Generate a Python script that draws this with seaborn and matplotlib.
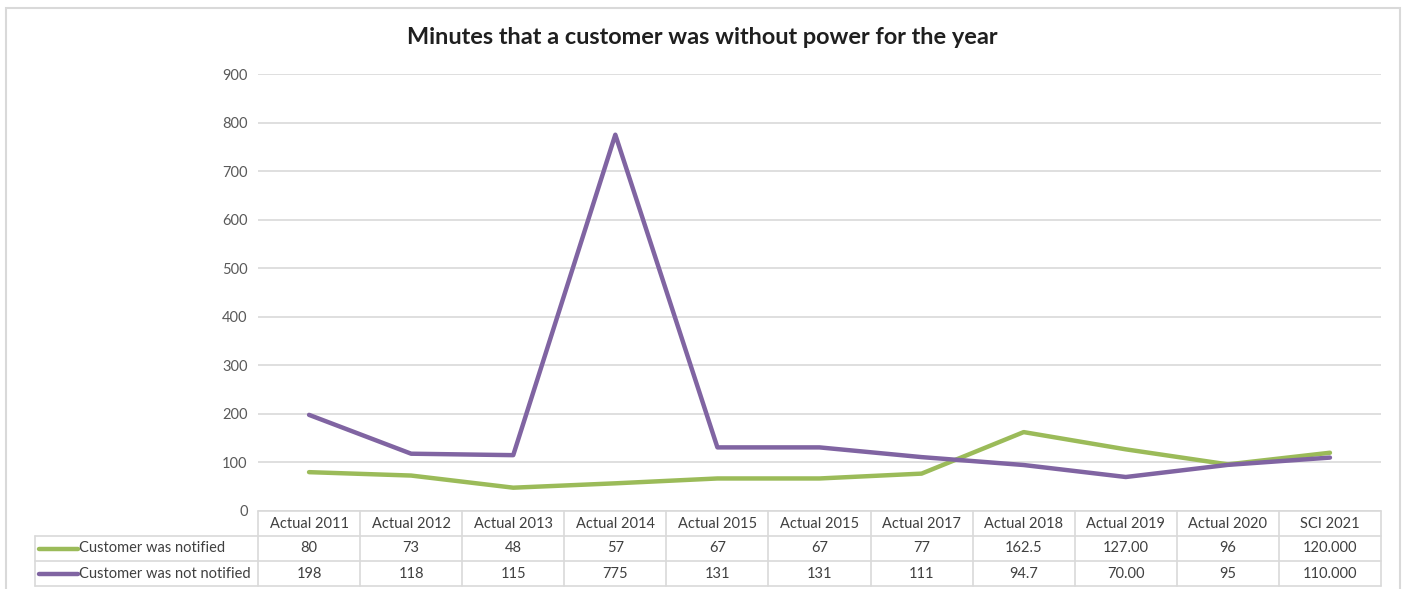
import matplotlib
matplotlib.use("Agg")
import matplotlib.pyplot as plt
import seaborn as sns
import pandas as pd
from matplotlib.lines import Line2D
from matplotlib.patches import Rectangle
import matplotlib.transforms as mtransforms

categories = ["Actual 2011", "Actual 2012", "Actual 2013", "Actual 2014", "Actual 2015",
              "Actual 2015", "Actual 2017", "Actual 2018", "Actual 2019", "Actual 2020", "SCI 2021"]
notified = [80, 73, 48, 57, 67, 67, 77, 162.5, 127.00, 96, 120.000]
not_notified = [198, 118, 115, 775, 131, 131, 111, 94.7, 70.00, 95, 110.000]
notified_labels = ["80", "73", "48", "57", "67", "67", "77", "162.5", "127.00", "96", "120.000"]
not_notified_labels = ["198", "118", "115", "775", "131", "131", "111", "94.7", "70.00", "95", "110.000"]
series_names = ["Customer was notified", "Customer was not notified"]
yticks = [0, 100, 200, 300, 400, 500, 600, 700, 800, 900]
title = "Minutes that a customer was without power for the year"

sns.set_theme(style="white")
plt.rcParams["font.family"] = ["Lato", "DejaVu Sans"]

W, H = 1405, 589
fig = plt.figure(figsize=(W / 100, H / 100), dpi=100)
fig.patch.set_facecolor("white")

# chart border
fig.add_artist(Rectangle((6 / W, -0.05), (1400 - 6) / W, 1.05 - 8 / H,
                         transform=fig.transFigure, fill=False,
                         edgecolor="#D9D9D9", linewidth=1.5))

left, right, top, bottom = 258, 1381, 74, 511
ax = fig.add_axes([left / W, 1 - bottom / H, (right - left) / W, (bottom - top) / H])

df = pd.DataFrame({
    "x": list(range(len(categories))) * 2,
    "value": notified + not_notified,
    "series": [series_names[0]] * len(categories) + [series_names[1]] * len(categories),
})
colors = {series_names[0]: "#9BBB59", series_names[1]: "#8064A2"}
sns.lineplot(data=df, x="x", y="value", hue="series", palette=colors, ax=ax,
             linewidth=3.2, legend=False, sort=False)

ax.set_xlim(-0.5, len(categories) - 0.5)
ax.set_ylim(0, 900)
ax.set_yticks(yticks)
ax.set_yticklabels([str(t) for t in yticks], color="#595959", fontsize=10.5)
ax.tick_params(axis="y", length=0, pad=7.5)
ax.set_xticks([])
ax.set_xlabel("")
ax.set_ylabel("")
ax.grid(axis="y", color="#D9D9D9", linewidth=1.2)
for s in ax.spines.values():
    s.set_visible(False)
ax.set_axisbelow(True)

fig.text(0.5, 1 - 38 / H, title, ha="center", va="center", fontsize=16.9,
         fontweight="bold", color="#1F1F1F")

# data table
axh = bottom - top
rowh = 25 / axh
trans = mtransforms.blended_transform_factory(ax.transData, ax.transAxes)
lc = "#D9D9D9"
n = len(categories)
xl = -0.5
xr = n - 0.5
ppc = (right - left) / n
label_left = xl - (left - 35) / ppc

def hline(x0, x1, y):
    ax.add_line(Line2D([x0, x1], [y, y], transform=trans, color=lc, lw=1.2, clip_on=False))

def vline(x, y0, y1):
    ax.add_line(Line2D([x, x], [y0, y1], transform=trans, color=lc, lw=1.2, clip_on=False))

hline(xl, xr, 0)
hline(label_left, xr, -rowh)
hline(label_left, xr, -2 * rowh)
hline(label_left, xr, -3 * rowh)
for i in range(n + 1):
    vline(xl + i, 0, -3 * rowh)
vline(label_left, -rowh, -3 * rowh)

tc = "#404040"
fs = 10.5
for i, c in enumerate(categories):
    ax.text(i, -0.5 * rowh, c, transform=trans, ha="center", va="center", fontsize=fs, color=tc)
    ax.text(i, -1.5 * rowh, notified_labels[i], transform=trans, ha="center", va="center", fontsize=fs, color=tc)
    ax.text(i, -2.5 * rowh, not_notified_labels[i], transform=trans, ha="center", va="center", fontsize=fs, color=tc)

key_x0 = label_left + (39 - 35) / ppc
key_x1 = label_left + (78 - 35) / ppc
for r, name in enumerate(series_names):
    yc = -(r + 1.5) * rowh
    ax.add_line(Line2D([key_x0, key_x1], [yc, yc], transform=trans, color=colors[name],
                       lw=3.2, clip_on=False))
    ax.text(key_x1 + 0.01, yc, name, transform=trans, ha="left", va="center", fontsize=fs, color=tc)

fig.savefig("out.png", dpi=100)
